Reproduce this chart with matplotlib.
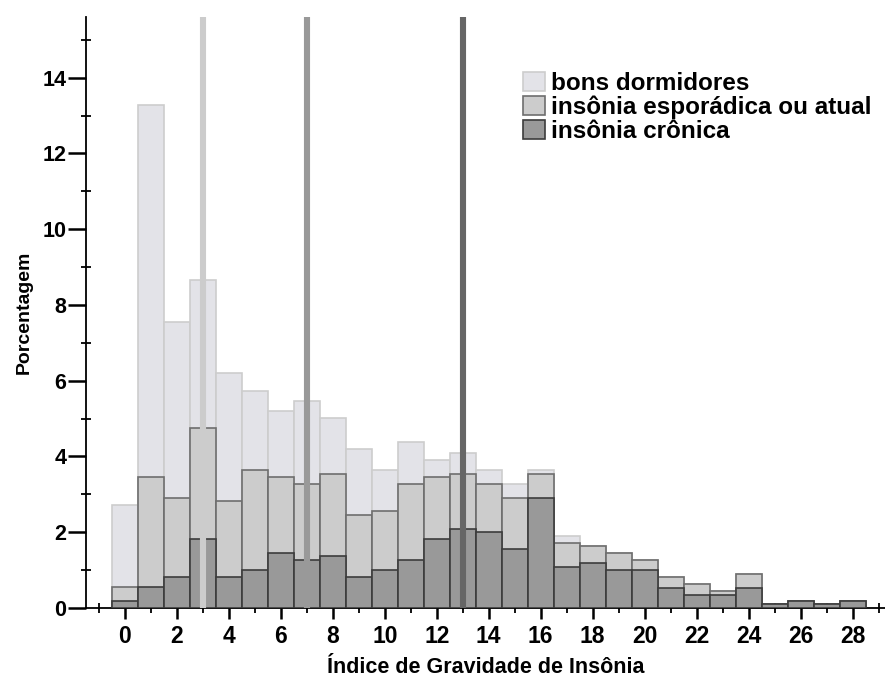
import matplotlib
matplotlib.use("Agg")
import matplotlib.pyplot as plt
from matplotlib.ticker import MultipleLocator

# ISI score bins 0..28, percent of each group
scores = list(range(0, 29))
bons = [2.73, 13.27, 7.55, 8.67, 6.2, 5.74, 5.19, 5.47, 5.01, 4.19,
        3.64, 4.37, 3.91, 4.09, 3.64, 3.28, 3.64, 1.91, 1.64, 1.46,
        1.27, 0.82, 0.64, 0.46, 0.91, 0.1, 0.19, 0.1, 0.19]
esporadica = [0.55, 3.45, 2.91, 4.74, 2.82, 3.64, 3.45, 3.28, 3.54, 2.45,
              2.55, 3.28, 3.45, 3.54, 3.28, 2.91, 3.54, 1.72, 1.64, 1.46,
              1.27, 0.82, 0.64, 0.44, 0.91, 0.1, 0.19, 0.1, 0.19]
cronica = [0.18, 0.55, 0.83, 1.83, 0.83, 1.0, 1.46, 1.28, 1.37, 0.83,
           1.0, 1.28, 1.83, 2.09, 2.0, 1.55, 2.91, 1.09, 1.18, 1.0,
           1.0, 0.54, 0.35, 0.35, 0.54, 0.1, 0.19, 0.1, 0.19]
medianas = [3, 7, 13]
labels = ['bons dormidores', 'insônia esporádica ou atual', 'insônia crônica']

plt.rcParams['font.family'] = ['Liberation Sans', 'DejaVu Sans']

fig = plt.figure(figsize=(8.85, 6.8), dpi=100)
ax = fig.add_axes([86 / 885, 1 - 608 / 680, 1 - 86 / 885, (608 - 17) / 680])

ax.bar(scores, bons, width=1.0, color='#e3e3e8', edgecolor='#cdcdcd',
       linewidth=1.2, label=labels[0], zorder=1)
ax.bar(scores, esporadica, width=1.0, color='#cccccc', edgecolor='#6e6e6e',
       linewidth=1.2, label=labels[1], zorder=2)
ax.bar(scores, cronica, width=1.0, color='#999999', edgecolor='#3c3c3c',
       linewidth=1.2, label=labels[2], zorder=3)

# medians
for x, c in zip(medianas, ['#cccccc', '#999999', '#666666']):
    ax.axvline(x, color=c, linewidth=4.4, zorder=4)

ax.set_xlim(-1.5, 29.25)
ax.set_ylim(0, 15.6)

for s in ['top', 'right']:
    ax.spines[s].set_visible(False)
for s in ['left', 'bottom']:
    ax.spines[s].set_linewidth(1.3)

ax.xaxis.set_major_locator(MultipleLocator(2))
ax.xaxis.set_minor_locator(MultipleLocator(1))
ax.yaxis.set_major_locator(MultipleLocator(2))
ax.yaxis.set_minor_locator(MultipleLocator(1))
ax.tick_params(axis='x', which='major', direction='out', length=8, width=1.8, pad=4)
ax.tick_params(axis='y', which='major', direction='out', length=13, width=1.8, pad=1)
ax.tick_params(axis='both', which='minor', direction='inout', length=7, width=1.3)

for t in ax.get_xticklabels():
    t.set_fontsize(16.5)
    t.set_fontweight('bold')
for t in ax.get_yticklabels():
    t.set_fontsize(15.5)
    t.set_fontweight('bold')

ax.set_xlabel('Índice de Gravidade de Insônia', fontsize=15.5, fontweight='bold',
              labelpad=7)
ax.set_ylabel('Porcentagem', fontsize=14, fontweight='bold', labelpad=7)

ax.legend(loc='upper left', bbox_to_anchor=(0.547, 0.907), frameon=False,
          prop={'size': 17.5, 'weight': 'bold'}, handlelength=0.9,
          handleheight=0.8, handletextpad=0.25, labelspacing=0.03,
          borderpad=0, borderaxespad=0)

fig.savefig('out.png', dpi=100)
